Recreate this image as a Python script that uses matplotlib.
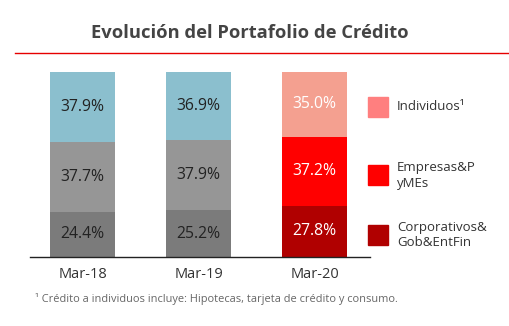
import matplotlib
matplotlib.use("Agg")
import matplotlib.pyplot as plt
from matplotlib.patches import Rectangle
from matplotlib.lines import Line2D

plt.rcParams['font.family'] = ['Open Sans', 'DejaVu Sans']

periods = ['Mar-18', 'Mar-19', 'Mar-20']
bottom_vals = [24.4, 25.2, 27.8]   # Corporativos & Gob & EntFin
middle_vals = [37.7, 37.9, 37.2]   # Empresas & PyMEs
top_vals = [37.9, 36.9, 35.0]      # Individuos

bottom_colors = ['#7b7b7b', '#7b7b7b', '#b00000']
middle_colors = ['#969696', '#969696', '#ff0000']
top_colors = ['#8bbfce', '#8bbfce', '#f4a090']
text_colors = ['#222222', '#222222', '#ffffff']

legend_labels = ['Individuos¹', 'Empresas&P\nyMEs', 'Corporativos&\nGob&EntFin']
legend_colors = ['#ff7f7f', '#ff0000', '#b00000']

W, H = 510, 326
fig = plt.figure(figsize=(W / 100, H / 100), dpi=100)

# title and red rule
fig.text(250 / W, 1 - 33 / H, 'Evolución del Portafolio de Crédito', ha='center', va='center',
         fontsize=13.2, fontweight='bold', color='#444444')
fig.add_artist(Line2D([15 / W, 1.0], [1 - 53 / H, 1 - 53 / H], color='#e60000', lw=1.0))

ax = fig.add_axes([30 / W, 69 / H, 340 / W, 185 / H])
x = range(len(periods))
w = 0.56
ax.bar(x, bottom_vals, w, color=bottom_colors)
ax.bar(x, middle_vals, w, bottom=bottom_vals, color=middle_colors)
mid_top = [b + m for b, m in zip(bottom_vals, middle_vals)]
ax.bar(x, top_vals, w, bottom=mid_top, color=top_colors)

for i in x:
    ax.text(i, bottom_vals[i] / 2, f'{bottom_vals[i]:.1f}%', ha='center', va='center',
            fontsize=11.3, color=text_colors[i])
    ax.text(i, bottom_vals[i] + middle_vals[i] / 2, f'{middle_vals[i]:.1f}%', ha='center',
            va='center', fontsize=11.3, color=text_colors[i])
    ax.text(i, mid_top[i] + top_vals[i] / 2, f'{top_vals[i]:.1f}%', ha='center', va='center',
            fontsize=11.3, color=text_colors[i])

ax.set_xlim(-0.4526, 2.478)
ax.set_ylim(0, 100)
ax.set_xticks(list(x))
ax.set_xticklabels(periods, fontsize=10.5, color='#333333')
ax.tick_params(axis='x', length=0, pad=7)
ax.set_yticks([])
for s in ['top', 'right', 'left']:
    ax.spines[s].set_visible(False)
ax.spines['bottom'].set_color('#222222')
ax.spines['bottom'].set_linewidth(1.0)

# legend, drawn by hand to keep the uneven spacing
for yc, lab, col in zip([107, 175, 235], legend_labels, legend_colors):
    fig.add_artist(Rectangle((368 / W, 1 - (yc + 10) / H), 20 / W, 20 / H,
                             color=col, transform=fig.transFigure))
    fig.text(397 / W, 1 - yc / H, lab, ha='left', va='center', fontsize=9.5,
             color='#333333', linespacing=1.3)

fig.text(35 / W, 1 - 299 / H, '¹ Crédito a individuos incluye: Hipotecas, tarjeta de crédito y consumo.',
         ha='left', va='center', fontsize=7.9, color='#666666')

fig.savefig('out.png', dpi=100)
